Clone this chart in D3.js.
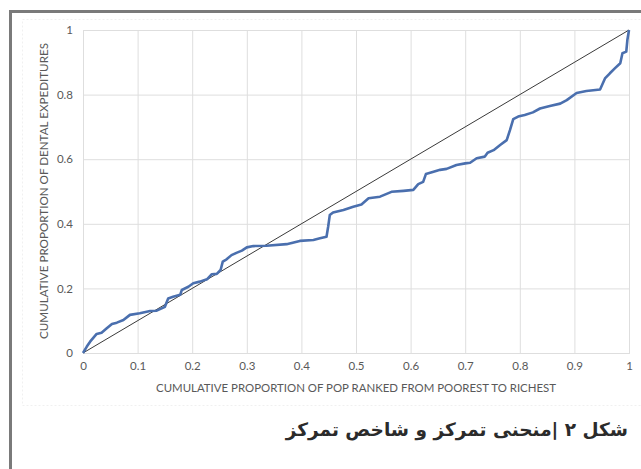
<!DOCTYPE html>
<html>
<head>
<meta charset="utf-8">
<script src="https://cdn.jsdelivr.net/npm/d3@7/dist/d3.min.js"></script>
<style>
  html, body { margin: 0; padding: 0; background: #fff; }
  body { width: 641px; height: 469px; overflow: hidden; position: relative; }
  svg { position: absolute; left: 0; top: 0; }
  #caption {
    position: absolute; top: 419px; right: 13px;
    direction: rtl; text-align: right; white-space: nowrap;
    font-family: "DejaVu Sans", sans-serif; font-weight: bold;
    font-size: 18.5px; color: #2b2b2b;
  }
</style>
</head>
<body>
<svg id="chart" width="641" height="469"></svg>
<div id="caption" dir="rtl">شکل ۲ |منحنی تمرکز و شاخص تمرکز</div>
<script>
// Concentration curve: cumulative share of population (ranked poorest to richest)
const popShare = [0, 0.007, 0.013, 0.025, 0.034, 0.043, 0.053, 0.062, 0.074, 0.086, 0.104, 0.123, 0.135, 0.144, 0.15,
  0.156, 0.165, 0.178, 0.181, 0.193, 0.202, 0.214, 0.227, 0.236, 0.245, 0.252, 0.256, 0.263, 0.272, 0.281, 0.291,
  0.3, 0.312, 0.336, 0.373, 0.397, 0.422, 0.434, 0.446, 0.449, 0.452, 0.458, 0.477, 0.495, 0.51, 0.523, 0.544,
  0.565, 0.587, 0.605, 0.614, 0.623, 0.628, 0.642, 0.654, 0.666, 0.684, 0.7, 0.709, 0.721, 0.736, 0.741, 0.752,
  0.764, 0.776, 0.782, 0.788, 0.797, 0.809, 0.824, 0.837, 0.855, 0.874, 0.886, 0.904, 0.922, 0.947, 0.956, 0.965,
  0.974, 0.984, 0.988, 0.995, 0.997, 1];
// Cumulative share of dental expenditures
const expShare = [0, 0.02, 0.035, 0.059, 0.063, 0.076, 0.09, 0.094, 0.102, 0.118, 0.123, 0.13, 0.131, 0.138, 0.143,
  0.169, 0.174, 0.18, 0.195, 0.205, 0.216, 0.221, 0.228, 0.244, 0.245, 0.257, 0.283, 0.29, 0.303, 0.31, 0.317,
  0.327, 0.331, 0.332, 0.337, 0.347, 0.35, 0.355, 0.36, 0.391, 0.427, 0.435, 0.443, 0.453, 0.46, 0.479, 0.484,
  0.499, 0.502, 0.505, 0.523, 0.53, 0.554, 0.561, 0.567, 0.57, 0.582, 0.587, 0.589, 0.603, 0.608, 0.62, 0.628,
  0.644, 0.659, 0.69, 0.724, 0.732, 0.737, 0.745, 0.757, 0.765, 0.772, 0.783, 0.805, 0.811, 0.816, 0.85, 0.866,
  0.881, 0.897, 0.928, 0.933, 0.969, 1];
// Line of equality
const equalityX = [0, 1];
const equalityY = [0, 1];

const xTicks = [0, 0.1, 0.2, 0.3, 0.4, 0.5, 0.6, 0.7, 0.8, 0.9, 1];
const yTicks = [0, 0.2, 0.4, 0.6, 0.8, 1];
const xTitle = "CUMULATIVE PROPORTION OF POP RANKED FROM POOREST TO RICHEST";
const yTitle = "CUMULATIVE PROPORTION OF DENTAL EXPEDITURES";

const svg = d3.select("#chart");

// outer figure frame
svg.append("rect")
  .attr("x", 10.5).attr("y", 11.5).attr("width", 700).attr("height", 600)
  .attr("fill", "none").attr("stroke", "#7a7a7a").attr("stroke-width", 3);
// faint chart-area border
svg.append("rect")
  .attr("x", 22.5).attr("y", 19.5).attr("width", 700).attr("height", 386)
  .attr("fill", "none").attr("stroke", "#f0f0f0").attr("stroke-width", 1)
  .attr("stroke-dasharray", "2,2");

const plot = { left: 83, right: 629, top: 30, bottom: 353 };
const x = d3.scaleLinear().domain([0, 1]).range([plot.left, plot.right]);
const y = d3.scaleLinear().domain([0, 1]).range([plot.bottom, plot.top]);

const fmt = d => d === 0 ? "0" : d === 1 ? "1" : d3.format(".1f")(d);
const tickFont = "Lato, 'Open Sans', sans-serif";

// vertical gridlines + x labels
const xAxis = d3.axisBottom(x).tickValues(xTicks).tickFormat(fmt)
  .tickSize(-(plot.bottom - plot.top)).tickPadding(9);
const gx = svg.append("g").attr("transform", `translate(0,${plot.bottom})`).call(xAxis);
gx.select(".domain").attr("stroke", "#d4d4d4");
gx.selectAll(".tick line").attr("stroke", "#dedede").attr("stroke-width", 1);
gx.selectAll(".tick text").attr("fill", "#595959").attr("font-size", 11.5).attr("font-family", tickFont);

// horizontal gridlines + y labels
const yAxis = d3.axisLeft(y).tickValues(yTicks).tickFormat(fmt)
  .tickSize(-(plot.right - plot.left)).tickPadding(10);
const gy = svg.append("g").attr("transform", `translate(${plot.left},0)`).call(yAxis);
gy.select(".domain").remove();
gy.selectAll(".tick line").attr("stroke", "#dedede").attr("stroke-width", 1);
gy.selectAll(".tick text").attr("fill", "#595959").attr("font-size", 11.5).attr("font-family", tickFont);

// axis titles
svg.append("text")
  .attr("x", (plot.left + plot.right) / 2).attr("y", 392)
  .attr("text-anchor", "middle").attr("fill", "#595959")
  .attr("font-family", tickFont).attr("font-size", 10.5)
  .attr("textLength", 400).attr("lengthAdjust", "spacingAndGlyphs")
  .text(xTitle);
svg.append("text")
  .attr("transform", "translate(48,191) rotate(-90)")
  .attr("text-anchor", "middle").attr("fill", "#595959")
  .attr("font-family", tickFont).attr("font-size", 10.5)
  .attr("textLength", 296).attr("lengthAdjust", "spacingAndGlyphs")
  .text(yTitle);

// line of equality
const line = d3.line().x(d => x(d[0])).y(d => y(d[1]));
svg.append("path")
  .datum(d3.zip(equalityX, equalityY))
  .attr("d", line)
  .attr("fill", "none").attr("stroke", "#3a3a3a").attr("stroke-width", 1);

// concentration curve
svg.append("path")
  .datum(d3.zip(popShare, expShare))
  .attr("d", line)
  .attr("fill", "none").attr("stroke", "#4a6fae").attr("stroke-width", 2.6)
  .attr("stroke-linejoin", "round");
</script>
</body>
</html>
